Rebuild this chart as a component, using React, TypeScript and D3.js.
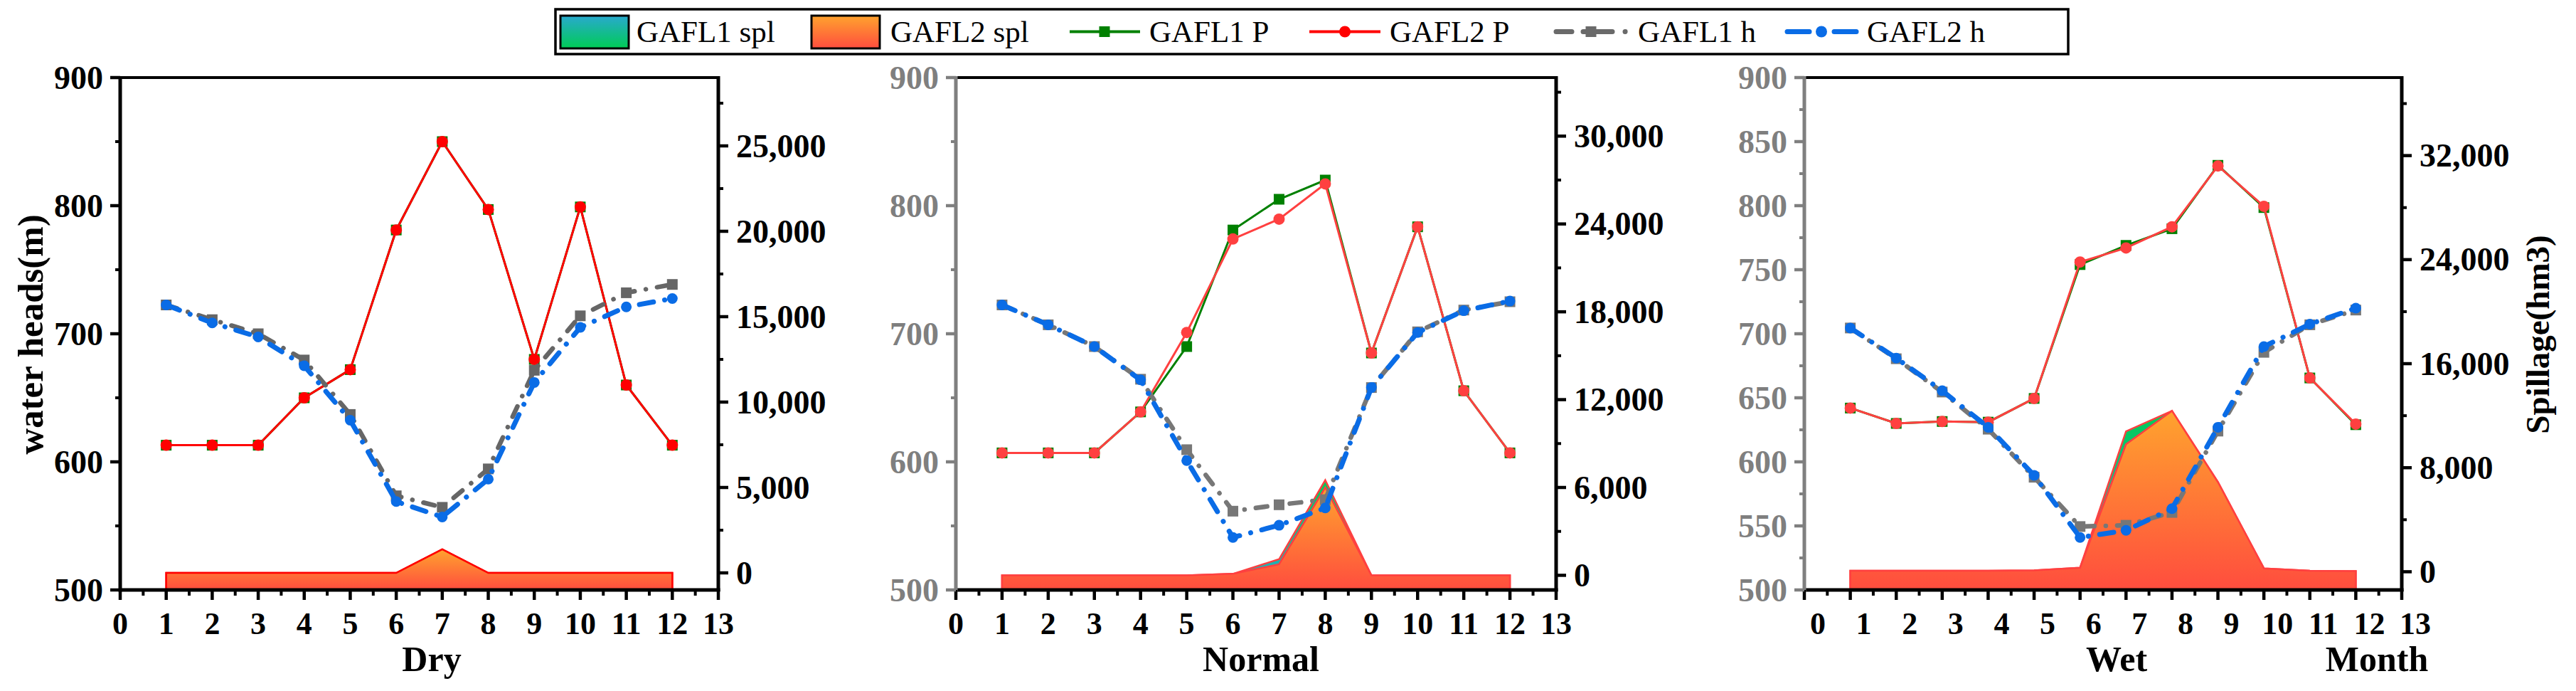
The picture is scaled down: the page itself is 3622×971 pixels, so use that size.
import * as d3 from 'd3';

const FONT = "'Liberation Serif', 'Times New Roman', Times, serif";
const TOP = 109;
const BOTTOM = 829;

// ---- data ----
const months = [1, 2, 3, 4, 5, 6, 7, 8, 9, 10, 11, 12];
const xTicks = [0, 1, 2, 3, 4, 5, 6, 7, 8, 9, 10, 11, 12, 13];
const xMinorTicks = [0.5, 1.5, 2.5, 3.5, 4.5, 5.5, 6.5, 7.5, 8.5, 9.5, 10.5, 11.5, 12.5];

const dryP1 = [613, 613, 613, 650, 672, 781, 850, 797, 680, 799, 660, 613];
const dryP2 = [613, 613, 613, 650, 672, 781, 850, 797, 680, 799, 660, 613];
const dryH1 = [722.5, 711, 700, 679.5, 637, 573.5, 564.5, 594.5, 671.5, 714, 732, 738.5];
const dryH2 = [722.5, 708.5, 697.5, 675, 632.5, 569, 557, 586.5, 662, 705, 721, 727.5];
const drySpl1 = [0, 0, 0, 0, 0, 0, 1380, 0, 0, 0, 0, 0];
const drySpl2 = [0, 0, 0, 0, 0, 0, 1380, 0, 0, 0, 0, 0];

const normP1 = [607, 607, 607, 639, 690, 781, 805, 820, 685, 783.5, 655.5, 607];
const normP2 = [607, 607, 607, 639, 701, 774, 789.5, 817, 685, 783.5, 655.5, 607];
const normH1 = [722.5, 707, 690, 664.5, 609.5, 561.5, 566.5, 570.5, 658, 701.5, 718.5, 725];
const normH2 = [722.5, 707, 690, 664, 601, 541, 550.5, 564, 658, 701, 718, 725.5];
const normSpl1 = [0, 0, 0, 0, 0, 100, 1100, 6500, 0, 0, 0, 0];
const normSpl2 = [0, 0, 0, 0, 0, 100, 750, 6000, 0, 0, 0, 0];

const wetP1 = [642, 630, 631.5, 631, 649.5, 754, 769, 782, 831.5, 798.5, 665.5, 629];
const wetP2 = [642, 630, 631.5, 631, 649.5, 756, 767, 783.5, 831, 799.5, 665.5, 629.5];
const wetH1 = [704.5, 680.5, 654.5, 625.5, 588, 549.5, 550.5, 560.5, 624, 685.5, 707, 718.5];
const wetH2 = [704.5, 681, 655.5, 627, 589.5, 541, 546.5, 563.5, 627, 690, 707.5, 720];
const wetSpl1 = [80, 80, 80, 80, 110, 310, 10800, 12370, 6890, 260, 80, 50];
const wetSpl2 = [80, 80, 80, 80, 110, 310, 9800, 12370, 6890, 260, 80, 50];

const leftTicks100 = [500, 600, 700, 800, 900];
const leftMinor100 = [550, 650, 750, 850];
const leftTicks50 = [500, 550, 600, 650, 700, 750, 800, 850, 900];
const leftMinor50 = [525, 575, 625, 675, 725, 775, 825, 875];

const dryRightTicks = [0, 5000, 10000, 15000, 20000, 25000];
const dryRightMinor = [2500, 7500, 12500, 17500, 22500, 27500];
const normRightTicks = [0, 6000, 12000, 18000, 24000, 30000];
const normRightMinor = [3000, 9000, 15000, 21000, 27000, 33000];
const wetRightTicks = [0, 8000, 16000, 24000, 32000];
const wetRightMinor = [4000, 12000, 20000, 28000, 36000];

const legendLabels = ['GAFL1 spl', 'GAFL2 spl', 'GAFL1 P', 'GAFL2 P', 'GAFL1 h', 'GAFL2 h'];

const GREEN = '#008000';
const BLUE = '#0a6ce6';

interface PanelCfg {
  left: number;
  right: number;
  rightDomain: [number, number];
  leftTicks: number[];
  leftMinor: number[];
  rightTicks: number[];
  rightMinor: number[];
  leftColor: string;
  red: string;
  grey: string;
  xShift: number;
  title: string;
  titleX: number;
  p1: number[];
  p2: number[];
  h1: number[];
  h2: number[];
  spl1: number[];
  spl2: number[];
}

const panels: PanelCfg[] = [
  {
    left: 169, right: 1010, rightDomain: [-1000, 29000],
    leftTicks: leftTicks100, leftMinor: leftMinor100,
    rightTicks: dryRightTicks, rightMinor: dryRightMinor,
    leftColor: '#000000', red: '#ff0000', grey: '#666666', xShift: 0,
    title: 'Dry', titleX: 607,
    p1: dryP1, p2: dryP2, h1: dryH1, h2: dryH2, spl1: drySpl1, spl2: drySpl2,
  },
  {
    left: 1344, right: 2188, rightDomain: [-1000, 34000],
    leftTicks: leftTicks100, leftMinor: leftMinor100,
    rightTicks: normRightTicks, rightMinor: normRightMinor,
    leftColor: '#7f7f7f', red: '#ff4040', grey: '#777777', xShift: 0,
    title: 'Normal', titleX: 1773,
    p1: normP1, p2: normP2, h1: normH1, h2: normH2, spl1: normSpl1, spl2: normSpl2,
  },
  {
    left: 2537, right: 3377, rightDomain: [-1400, 38000],
    leftTicks: leftTicks50, leftMinor: leftMinor50,
    rightTicks: wetRightTicks, rightMinor: wetRightMinor,
    leftColor: '#7f7f7f', red: '#ff4040', grey: '#777777', xShift: 19,
    title: 'Wet', titleX: 2976,
    p1: wetP1, p2: wetP2, h1: wetH1, h2: wetH2, spl1: wetSpl1, spl2: wetSpl2,
  },
];

const fmt = d3.format(',');

function Panel({ p }: { p: PanelCfg }) {
  const x = d3.scaleLinear().domain([0, 13]).range([p.left, p.right]);
  const yL = d3.scaleLinear().domain([500, 900]).range([BOTTOM, TOP]);
  const yR = d3.scaleLinear().domain(p.rightDomain).range([BOTTOM, TOP]);
  const line = d3
    .line<number>()
    .x((_, i) => x(months[i]))
    .y((v) => yL(v));
  const area = d3
    .area<number>()
    .x((_, i) => x(months[i]))
    .y0(yR(p.rightDomain[0]))
    .y1((v) => yR(v));

  return (
    <g>
      {/* spillage areas */}
      <path d={area(p.spl1) ?? ''} fill="url(#fillGreen)" stroke={p.red} strokeWidth={2.5} />
      <path d={area(p.spl2) ?? ''} fill="url(#fillOrange)" stroke={p.red} strokeWidth={2.5} />

      {/* power lines */}
      <path d={line(p.p1) ?? ''} fill="none" stroke={GREEN} strokeWidth={3} />
      {p.p1.map((v, i) => (
        <rect key={'g' + i} x={x(months[i]) - 7.5} y={yL(v) - 7.5} width={15} height={15} fill={GREEN} />
      ))}
      <path d={line(p.p2) ?? ''} fill="none" stroke={p.red} strokeWidth={3} />
      {p.p2.map((v, i) => (
        <circle key={'r' + i} cx={x(months[i])} cy={yL(v)} r={8} fill={p.red} />
      ))}

      {/* water head lines */}
      <path
        d={line(p.h1) ?? ''}
        fill="none"
        stroke={p.grey}
        strokeWidth={6.5}
        strokeDasharray="16 16 0.1 16"
        strokeLinecap="round"
      />
      {p.h1.map((v, i) => (
        <rect key={'h' + i} x={x(months[i]) - 7.5} y={yL(v) - 7.5} width={15} height={15} fill={p.grey} />
      ))}
      <path
        d={line(p.h2) ?? ''}
        fill="none"
        stroke={BLUE}
        strokeWidth={7}
        strokeDasharray="20 16 0.1 16"
        strokeLinecap="round"
      />
      {p.h2.map((v, i) => (
        <circle key={'b' + i} cx={x(months[i])} cy={yL(v)} r={7.5} fill={BLUE} />
      ))}

      {/* frame */}
      <line x1={p.left} x2={p.right} y1={TOP} y2={TOP} stroke="#000" strokeWidth={4} />
      <line x1={p.right} x2={p.right} y1={TOP - 2} y2={BOTTOM + 2} stroke="#000" strokeWidth={5} />
      <line x1={p.left} x2={p.right + 2.5} y1={BOTTOM} y2={BOTTOM} stroke="#000" strokeWidth={5} />
      <line x1={p.left} x2={p.left} y1={TOP - 2} y2={BOTTOM + 2.5} stroke={p.leftColor} strokeWidth={5} />

      {/* bottom axis */}
      {xTicks.map((t) => (
        <g key={'xt' + t}>
          <line x1={x(t)} x2={x(t)} y1={BOTTOM} y2={BOTTOM + 14} stroke="#000" strokeWidth={4.5} />
          <text
            x={x(t) + p.xShift}
            y={891}
            textAnchor="middle"
            fontFamily={FONT}
            fontWeight="bold"
            fontSize={44}
          >
            {t}
          </text>
        </g>
      ))}
      {xMinorTicks.map((t) => (
        <line key={'xm' + t} x1={x(t)} x2={x(t)} y1={BOTTOM} y2={BOTTOM + 8} stroke="#000" strokeWidth={4} />
      ))}

      {/* left axis */}
      {p.leftTicks.map((t) => (
        <g key={'lt' + t}>
          <line x1={p.left - 14} x2={p.left} y1={yL(t)} y2={yL(t)} stroke={p.leftColor} strokeWidth={4.5} />
          <text
            x={p.left - 24}
            y={yL(t)}
            dy="0.34em"
            textAnchor="end"
            fontFamily={FONT}
            fontWeight="bold"
            fontSize={46}
            fill={p.leftColor}
          >
            {t}
          </text>
        </g>
      ))}
      {p.leftMinor.map((t) => (
        <line key={'lm' + t} x1={p.left - 7} x2={p.left} y1={yL(t)} y2={yL(t)} stroke={p.leftColor} strokeWidth={4} />
      ))}

      {/* right axis */}
      {p.rightTicks.map((t) => (
        <g key={'rt' + t}>
          <line x1={p.right} x2={p.right + 14} y1={yR(t)} y2={yR(t)} stroke="#000" strokeWidth={4.5} />
          <text
            x={p.right + 25}
            y={yR(t)}
            dy="0.34em"
            textAnchor="start"
            fontFamily={FONT}
            fontWeight="bold"
            fontSize={46}
          >
            {fmt(t)}
          </text>
        </g>
      ))}
      {p.rightMinor.map((t) => (
        <line key={'rm' + t} x1={p.right} x2={p.right + 7} y1={yR(t)} y2={yR(t)} stroke="#000" strokeWidth={4} />
      ))}

      <text x={p.titleX} y={943} textAnchor="middle" fontFamily={FONT} fontWeight="bold" fontSize={50}>
        {p.title}
      </text>
    </g>
  );
}

function Legend() {
  const cy = 44.5;
  const txt = (xPos: number, s: string) => (
    <text x={xPos} y={59} fontFamily={FONT} fontSize={43}>
      {s}
    </text>
  );
  return (
    <g>
      <rect x={781} y={13} width={2127} height={63} fill="#fff" stroke="#000" strokeWidth={3.5} />
      <rect x={788} y={22} width={96} height={46} fill="url(#swatchGreen)" stroke="#000" strokeWidth={3} />
      {txt(895, legendLabels[0])}
      <rect x={1141} y={22} width={96} height={46} fill="url(#fillOrange)" stroke="#000" strokeWidth={3} />
      {txt(1252, legendLabels[1])}
      <line x1={1504} x2={1603} y1={cy} y2={cy} stroke={GREEN} strokeWidth={4} />
      <rect x={1553 - 7.5} y={cy - 7.5} width={15} height={15} fill={GREEN} />
      {txt(1616, legendLabels[2])}
      <line x1={1841} x2={1941} y1={cy} y2={cy} stroke="#ff0000" strokeWidth={4} />
      <circle cx={1891} cy={cy} r={8} fill="#ff0000" />
      {txt(1954, legendLabels[3])}
      <line
        x1={2188}
        x2={2286}
        y1={cy}
        y2={cy}
        stroke="#6a6a6a"
        strokeWidth={7}
        strokeLinecap="round"
        strokeDasharray="22 16 41 18 0.1 30"
      />
      <rect x={2237 - 7.5} y={cy - 7.5} width={15} height={15} fill="#6a6a6a" />
      {txt(2303, legendLabels[4])}
      <line
        x1={2513}
        x2={2610}
        y1={cy}
        y2={cy}
        stroke={BLUE}
        strokeWidth={7}
        strokeLinecap="round"
        strokeDasharray="31 35"
      />
      <circle cx={2561} cy={cy} r={8} fill={BLUE} />
      {txt(2625, legendLabels[5])}
    </g>
  );
}

export default function App() {
  return (
    <svg
      width={3622}
      height={971}
      style={{ position: 'absolute', left: 0, top: 0, display: 'block', background: '#fff' }}
    >
      <defs>
        <linearGradient id="fillOrange" x1="0" y1="0" x2="0" y2="1">
          <stop offset="0" stopColor="#ffa32e" />
          <stop offset="1" stopColor="#ff4d3e" />
        </linearGradient>
        <linearGradient id="fillGreen" x1="0" y1="0" x2="0" y2="1">
          <stop offset="0" stopColor="#00cc55" />
          <stop offset="1" stopColor="#29a9cf" />
        </linearGradient>
        <linearGradient id="swatchGreen" x1="0" y1="0" x2="0" y2="1">
          <stop offset="0" stopColor="#29a9cf" />
          <stop offset="1" stopColor="#00cc55" />
        </linearGradient>
      </defs>
      <rect x={0} y={0} width={3622} height={971} fill="#fff" />
      <Legend />
      {panels.map((p) => (
        <Panel key={p.title} p={p} />
      ))}
      <text
        transform="translate(60,470) rotate(-90)"
        textAnchor="middle"
        fontFamily={FONT}
        fontWeight="bold"
        fontSize={51}
      >
        water heads(m)
      </text>
      <text
        transform="translate(3584,470) rotate(-90)"
        textAnchor="middle"
        fontFamily={FONT}
        fontWeight="bold"
        fontSize={47}
      >
        Spillage(hm3)
      </text>
      <text x={3342} y={943} textAnchor="middle" fontFamily={FONT} fontWeight="bold" fontSize={50}>
        Month
      </text>
    </svg>
  );
}
